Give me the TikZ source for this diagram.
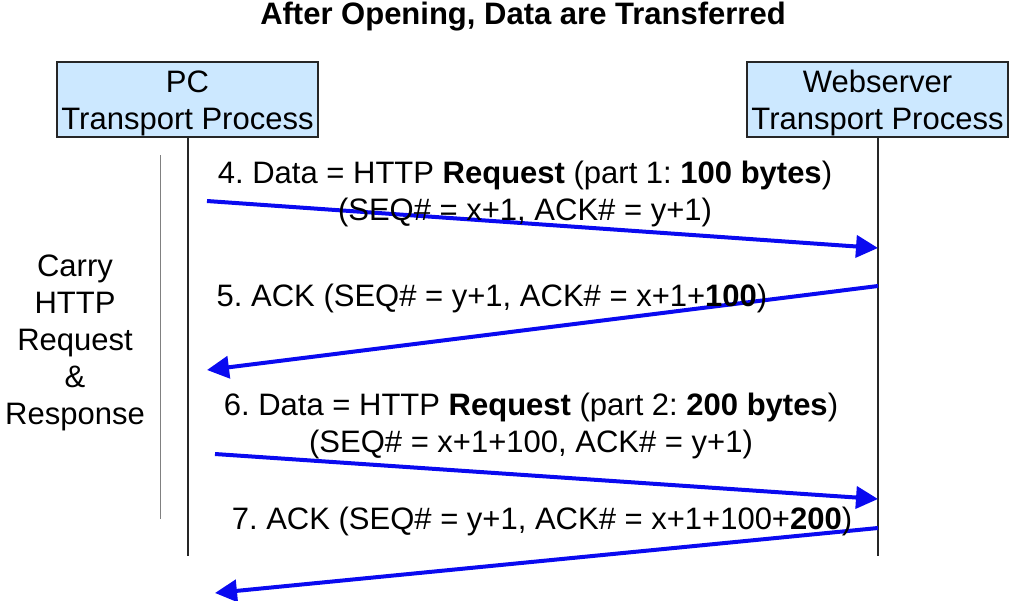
\documentclass[tikz,border=0pt]{standalone}
\usepackage{fontspec}
\setmainfont{Liberation Sans}
\usetikzlibrary{arrows.meta}
\frenchspacing
\definecolor{boxfill}{HTML}{CCE8FF}
\definecolor{arrblue}{HTML}{0A0AF0}
\tikzset{
  procbox/.style={draw=black!85, line width=1.3pt, fill=boxfill, minimum width=261pt, minimum height=75pt, inner sep=0pt, align=center},
  boxtext/.style={inner sep=0pt, align=center, font=\fontsize{31}{37}\selectfont},
  lifeline/.style={draw=black!85, line width=1.4pt},
  msg/.style={draw=arrblue, line width=4pt, -{Triangle[length=22pt,width=22pt]}},
  lbl/.style={inner sep=0pt, align=center, font=\fontsize{31}{37}\selectfont},
}
\begin{document}
\begin{tikzpicture}[x=1pt,y=-1pt]
\useasboundingbox (0,0) rectangle (1024,600);
\node[font=\fontsize{31}{36}\selectfont\bfseries] (title) at (523,17) {After Opening, Data are Transferred};
\node[procbox] (pc) at (187.5,99.5) {};
\node[boxtext] (pct) at (187.5,103) {PC\\Transport Process};
\node[procbox] (ws) at (877.5,99.5) {};
\node[boxtext] (wst) at (877.5,103) {Webserver\\Transport Process};
\coordinate (pcend) at (188,556);
\coordinate (wsend) at (878,556);
\draw[lifeline] (pc.south -| pcend) -- (pcend);
\draw[lifeline] (ws.south -| wsend) -- (wsend);
\coordinate (bt) at (160,155);
\coordinate (bb) at (160,519);
\draw[draw=black!50, line width=0.9pt] (bt) -- (bb);
\node[lbl] (side) at (75,343) {Carry\\HTTP\\Request\\\&\\Response};
% message 4
\coordinate (m4a) at (207,201);
\coordinate (m4b) at (878,248);
\draw[msg] (m4a) -- (m4b);
\node[lbl] (t4) at (525,194) {4. Data = HTTP \textbf{Request} (part 1: \textbf{100 bytes})\\(SEQ\# = x+1, ACK\# = y+1)};
% message 5
\coordinate (m5a) at (878,286);
\coordinate (m5b) at (207,370);
\draw[msg] (m5a) -- (m5b);
\node[lbl] (t5) at (492,298) {5. ACK (SEQ\# = y+1, ACK\# = x+1+\textbf{100})};
% message 6
\coordinate (m6a) at (215,454);
\coordinate (m6b) at (878,499);
\draw[msg] (m6a) -- (m6b);
\node[lbl] (t6) at (531,426) {6. Data = HTTP \textbf{Request} (part 2: \textbf{200 bytes})\\(SEQ\# = x+1+100, ACK\# = y+1)};
% message 7
\coordinate (m7a) at (878,528);
\coordinate (m7b) at (215,593);
\draw[msg] (m7a) -- (m7b);
\node[lbl] (t7) at (542,521) {7. ACK (SEQ\# = y+1, ACK\# = x+1+100+\textbf{200})};
\end{tikzpicture}
\end{document}
